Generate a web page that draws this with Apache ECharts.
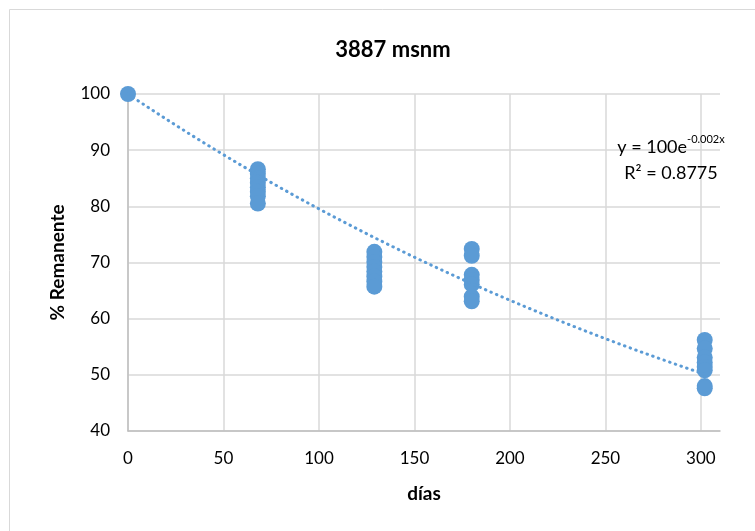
<!DOCTYPE html>
<html>
<head>
    <meta charset="utf-8">
    <script src="https://cdn.jsdelivr.net/npm/echarts@6/dist/echarts.min.js"></script>
</head>
<body style="margin:0">
	<div id="main" style="width:755px; height:531px;"></div>
	<script type="text/javascript">
		var dias = [0, 68, 129, 180, 302]
		var remanente = [
			[100],
			[86.6, 85.8, 85.0, 84.2, 83.4, 82.6, 81.8, 80.5],
			[71.9, 71.0, 70.1, 69.2, 68.4, 67.5, 66.6, 65.7],
			[72.4, 71.2, 67.8, 66.9, 66.1, 63.9, 63.1],
			[56.2, 54.7, 53.1, 52.2, 51.4, 50.8, 48.0, 47.6]
		]
		var yTicks = [40, 50, 60, 70, 80, 90, 100]
		var xTicks = [0, 50, 100, 150, 200, 250, 300]
		var titulo = '3887 msnm'
		var ecuacion = ['y = 100e', '-0.002x', 'R² = 0.8775']

		var puntos = []
		for (var i = 0; i < dias.length; i++) {
			for (var j = 0; j < remanente[i].length; j++) {
				puntos.push([dias[i], remanente[i][j]])
			}
		}

		// linea de tendencia exponencial con intersección fija en 100 (como Excel)
		var sxy = 0, sxx = 0
		for (var i = 0; i < puntos.length; i++) {
			sxy += puntos[i][0] * (Math.log(puntos[i][1]) - Math.log(100))
			sxx += puntos[i][0] * puntos[i][0]
		}
		var k = sxy / sxx
		var xMax = dias[dias.length - 1]
		var tendencia = []
		for (var x = 0; x <= xMax; x += 2) {
			tendencia.push([x, 100 * Math.exp(k * x)])
		}

		var azul = '#5B9BD5'
		var fuente = 'Lato'
		var myChart = echarts.init(document.getElementById('main'))
		var option = {
			backgroundColor: '#fff',
			textStyle: { fontFamily: fuente },
			graphic: [{
				type: 'rect',
				shape: { x: 9.5, y: 9.5, width: 800, height: 600 },
				style: { fill: 'none', stroke: '#d9d9d9', lineWidth: 1 }
			}],
			title: [{
				text: titulo,
				left: 388,
				top: 34,
				textAlign: 'center',
				textStyle: { fontSize: 22, fontWeight: 'bold', color: '#000', fontFamily: fuente }
			}, {
				text: '{a|' + ecuacion[0] + '}{s|' + ecuacion[1] + '}\n{a|' + ecuacion[2] + '}',
				left: 666,
				top: 129,
				textAlign: 'center',
				textStyle: {
					fontFamily: fuente,
					fontWeight: 'normal',
					rich: {
						a: { fontSize: 18, color: '#000', lineHeight: 26, fontWeight: 'normal', fontFamily: fuente },
						s: { fontSize: 11, color: '#000', verticalAlign: 'top', lineHeight: 26, fontWeight: 'normal', padding: [0, 0, 9, 0], fontFamily: fuente }
					}
				}
			}],
			grid: { left: 128, right: 35, top: 94, bottom: 100 },
			xAxis: {
				type: 'value',
				min: 0,
				max: 310,
				interval: 50,
				name: 'días',
				nameLocation: 'middle',
				nameGap: 53,
				nameTextStyle: { fontSize: 19, fontWeight: 'bold', color: '#000', fontFamily: fuente },
				axisLine: { show: true, lineStyle: { color: '#bfbfbf', width: 1.5 } },
				axisTick: { show: false },
				axisLabel: {
					fontSize: 17, color: '#000', margin: 19, showMaxLabel: false,
					formatter: function (v) { return xTicks.indexOf(v) >= 0 ? v : '' }
				},
				splitLine: { show: true, showMaxLine: false, lineStyle: { color: '#d9d9d9', width: 1.5 } }
			},
			yAxis: {
				type: 'value',
				min: yTicks[0],
				max: yTicks[yTicks.length - 1],
				interval: 10,
				name: '% Remanente',
				nameLocation: 'middle',
				nameGap: 61,
				nameTextStyle: { fontSize: 19, fontWeight: 'bold', color: '#000', fontFamily: fuente },
				axisLine: { show: true, lineStyle: { color: '#bfbfbf', width: 1.5 } },
				axisTick: { show: false },
				axisLabel: { fontSize: 17, color: '#000', margin: 18 },
				splitLine: { show: true, lineStyle: { color: '#d9d9d9', width: 1.5 } }
			},
			series: [{
				type: 'line',
				data: tendencia,
				showSymbol: false,
				smooth: false,
				silent: true,
				z: 3,
				lineStyle: { color: azul, width: 3, type: [0.5, 5.5], cap: 'round' }
			}, {
				type: 'scatter',
				data: puntos,
				symbol: 'circle',
				symbolSize: 16,
				z: 2,
				itemStyle: { color: azul, opacity: 1 }
			}],
			animation: false
		}
		myChart.setOption(option)
	</script>
</body>
</html>
